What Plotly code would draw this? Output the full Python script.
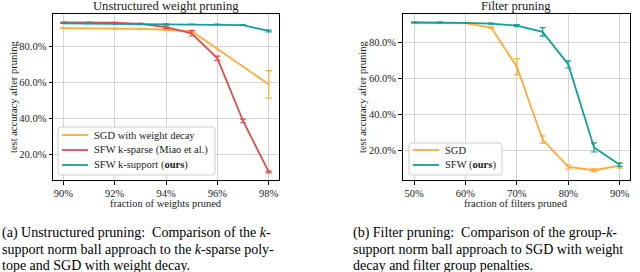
import plotly.graph_objects as go

# ---- data: unstructured weight pruning ----
weights_pruned = [90, 91, 92, 93, 94, 95, 96, 97, 98]
sgd_wd_pruned = [90, 92, 93, 94, 95, 98]
sgd_wd_acc = [90.4, 90.2, 90.0, 89.5, 88.7, 59.0]
sgd_wd_err = [0.2, 0.2, 0.2, 0.3, 0.5, 7.7]
sfw_sparse_acc = [93.6, 93.6, 93.5, 92.8, 91.0, 87.5, 73.5, 38.5, 10.0]
sfw_sparse_err = [0.2, 0.2, 0.2, 0.4, 0.7, 1.5, 1.2, 1.0, 0.5]
sfw_support_acc = [93.1, 93.0, 92.9, 92.8, 92.7, 92.6, 92.5, 92.1, 88.8]
sfw_support_err = [0.1, 0.1, 0.1, 0.1, 0.1, 0.1, 0.2, 0.2, 0.5]

# ---- data: filter pruning ----
filters_pruned = [50, 55, 60, 65, 70, 75, 80, 85, 90]
sgd_acc = [91.0, 91.0, 90.7, 88.2, 66.5, 26.2, 11.0, 9.2, 11.8]
sgd_err = [0.2, 0.2, 0.2, 0.4, 4.5, 2.0, 1.2, 0.8, 1.5]
sfw_acc = [91.0, 91.0, 90.8, 90.4, 89.3, 85.8, 67.8, 21.8, 12.2]
sfw_err = [0.2, 0.2, 0.2, 0.3, 0.6, 2.4, 2.0, 2.5, 1.0]

left_xticks = [90, 92, 94, 96, 98]
left_xlabels = ["90%", "92%", "94%", "96%", "98%"]
right_xticks = [50, 60, 70, 80, 90]
right_xlabels = ["50%", "60%", "70%", "80%", "90%"]
yticks = [20, 40, 60, 80]
ylabels = ["20.0%", "40.0%", "60.0%", "80.0%"]

left_legend = ["SGD with weight decay", "SFW k-sparse (Miao et al.)", "SFW k-support (<b>ours</b>)"]
right_legend = ["SGD", "SFW (<b>ours</b>)"]

ORANGE = "#ffab3a"
RED = "#dc4e4e"
TEAL = "#109f9b"
FONT = "Liberation Serif"
TXT = "#1a1a1a"

W, H = 640, 272


def px(x):
    return x / W


def py(y):
    return 1 - y / H


fig = go.Figure()


def add(x, y, e, color, name, xa, ya):
    fig.add_trace(go.Scatter(
        x=x, y=y, mode="lines", name=name, showlegend=False,
        line=dict(color=color, width=1.8),
        error_y=dict(type="data", array=e, visible=True, color=color,
                     thickness=1.2, width=3),
        xaxis=xa, yaxis=ya,
    ))


add(sgd_wd_pruned, sgd_wd_acc, sgd_wd_err, ORANGE, left_legend[0], "x", "y")
add(weights_pruned, sfw_sparse_acc, sfw_sparse_err, RED, left_legend[1], "x", "y")
add(weights_pruned, sfw_support_acc, sfw_support_err, TEAL, left_legend[2], "x", "y")
add(filters_pruned, sgd_acc, sgd_err, ORANGE, right_legend[0], "x2", "y2")
add(filters_pruned, sfw_acc, sfw_err, TEAL, right_legend[1], "x2", "y2")

axis_common = dict(
    showline=True, mirror=True, linecolor="black", linewidth=1,
    ticks="outside", ticklen=3.5, tickcolor="black", tickwidth=1,
    showgrid=True, gridcolor="#d4d4d4", gridwidth=1, zeroline=False,
    tickfont=dict(family=FONT, size=10.5, color=TXT), automargin=False,
)

fig.update_layout(
    width=W, height=H,
    margin=dict(l=0, r=0, t=0, b=0, autoexpand=False),
    paper_bgcolor="white", plot_bgcolor="white",
    font=dict(family=FONT, size=10.5, color=TXT),
    showlegend=False,
    xaxis=dict(domain=[px(53), px(279)], range=[89.6, 98.4], anchor="y",
               tickvals=left_xticks, ticktext=left_xlabels, **axis_common),
    yaxis=dict(domain=[py(180), py(14)], range=[5.5, 98.3], anchor="x",
               tickvals=yticks, ticktext=ylabels, **axis_common),
    xaxis2=dict(domain=[px(402.7), px(630)], range=[47.8, 92.0], anchor="y2",
                tickvals=right_xticks, ticktext=right_xlabels, **axis_common),
    yaxis2=dict(domain=[py(180), py(14)], range=[3.8, 95.7], anchor="x2",
                tickvals=yticks, ticktext=ylabels, **axis_common),
)


def ann(text, x, y, size=10.5, xanchor="center", yanchor="middle", angle=0, color=TXT):
    fig.add_annotation(text=text, x=px(x), y=py(y), xref="paper", yref="paper",
                       xanchor=xanchor, yanchor=yanchor, showarrow=False, textangle=angle,
                       font=dict(family=FONT, size=size, color=color))


# subplot titles
ann("Unstructured weight pruning", 166, 6, size=12.6)
ann("Filter pruning", 516, 6, size=12.6)
# axis titles
ann("fraction of weights pruned", 166, 203)
ann("fraction of filters pruned", 516, 203)
ann("test accuracy after pruning", 13, 97, angle=-90)
ann("test accuracy after pruning", 362, 97, angle=-90)


# legends (drawn box + sample lines + labels)
def legend_box(x0, y0, x1, y1):
    r = 3
    path = (f"M {px(x0 + r)},{py(y0)} L {px(x1 - r)},{py(y0)} "
            f"Q {px(x1)},{py(y0)} {px(x1)},{py(y0 + r)} L {px(x1)},{py(y1 - r)} "
            f"Q {px(x1)},{py(y1)} {px(x1 - r)},{py(y1)} L {px(x0 + r)},{py(y1)} "
            f"Q {px(x0)},{py(y1)} {px(x0)},{py(y1 - r)} L {px(x0)},{py(y0 + r)} "
            f"Q {px(x0)},{py(y0)} {px(x0 + r)},{py(y0)} Z")
    fig.add_shape(type="path", path=path, xref="paper", yref="paper",
                  line=dict(color="#cccccc", width=1), fillcolor="rgba(255,255,255,0.85)")


def legend_entry(lx0, lx1, tx, y, color, label):
    fig.add_shape(type="line", x0=px(lx0), x1=px(lx1), y0=py(y), y1=py(y),
                  xref="paper", yref="paper", line=dict(color=color, width=1.8))
    ann(label, tx, y, xanchor="left")


legend_box(58, 127, 215, 175)
for i, (c, lab) in enumerate(zip([ORANGE, RED, TEAL], left_legend)):
    legend_entry(62, 88, 92, 135 + 15 * i, c, lab)

legend_box(409, 143, 502, 175)
for i, (c, lab) in enumerate(zip([ORANGE, TEAL], right_legend)):
    legend_entry(413, 439, 443, 150 + 15 * i, c, lab)

# captions
cap_a = ["(a) Unstructured pruning:  Comparison of the <i>k</i>-",
         "support norm ball approach to the <i>k</i>-sparse poly-",
         "tope and SGD with weight decay."]
cap_b = ["(b) Filter pruning:  Comparison of the group-<i>k</i>-",
         "support norm ball approach to SGD with weight",
         "decay and filter group penalties."]
line_y = [232.5, 249.5, 265.5]
for i, t in enumerate(cap_a):
    ann(t, 0, line_y[i], size=14, xanchor="left", color="black")
for i, t in enumerate(cap_b):
    ann(t, 351, line_y[i], size=14, xanchor="left", color="black")

fig.write_html(
    "out.html",
    config={"displayModeBar": False},
    post_script="document.body.style.margin='0';document.body.style.overflow='hidden';",
)
